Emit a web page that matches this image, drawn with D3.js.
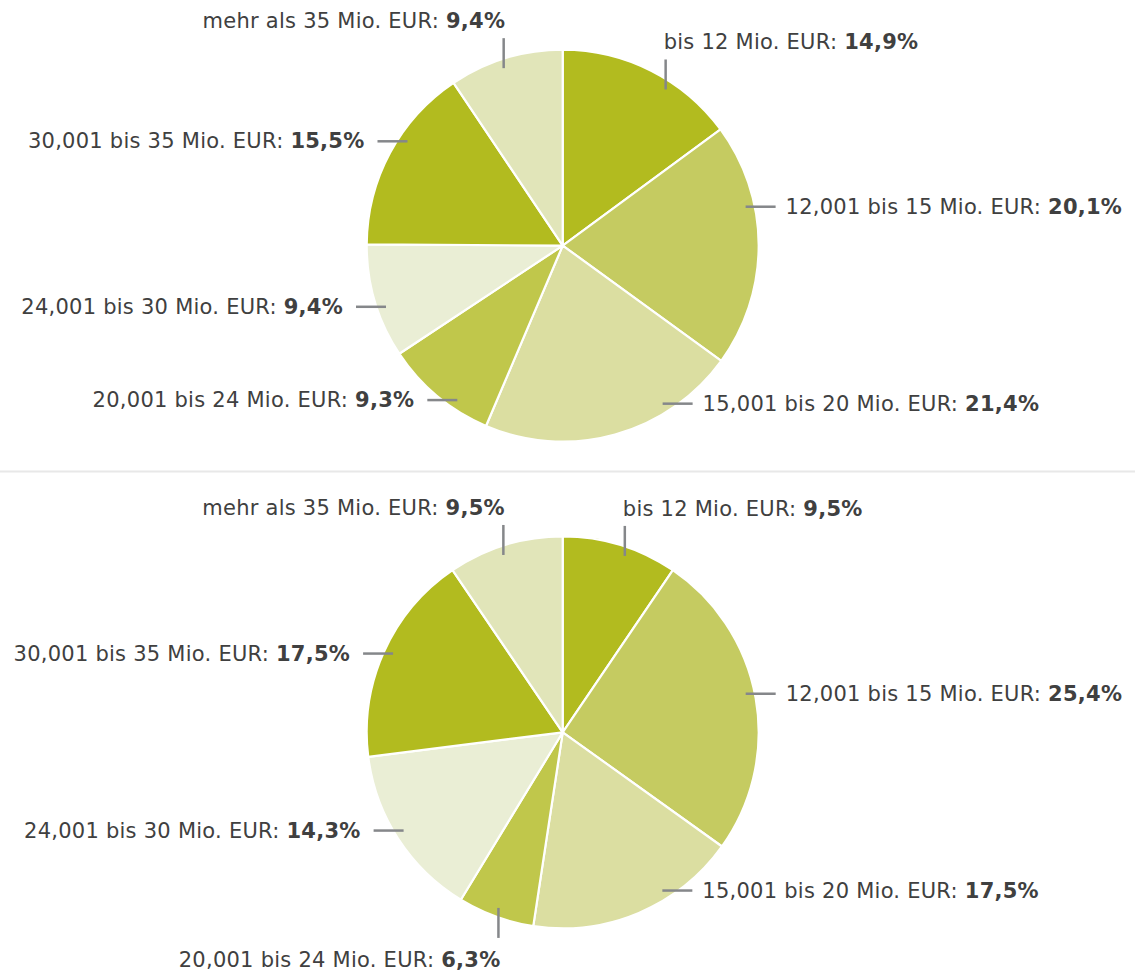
<!DOCTYPE html>
<html>
<head>
<meta charset="utf-8">
<script src="https://cdn.jsdelivr.net/npm/d3@7"></script>
<style>
  html, body { margin: 0; padding: 0; background: #ffffff; }
  svg { display: block; }
  text { font-family: "DejaVu Sans", "Liberation Sans", sans-serif; letter-spacing: 0.25px; }
</style>
</head>
<body>
<script>
// ---- data ----
const categories = [
  "bis 12 Mio. EUR",
  "12,001 bis 15 Mio. EUR",
  "15,001 bis 20 Mio. EUR",
  "20,001 bis 24 Mio. EUR",
  "24,001 bis 30 Mio. EUR",
  "30,001 bis 35 Mio. EUR",
  "mehr als 35 Mio. EUR"
];
const valuesTop = [14.9, 20.1, 21.4, 9.3, 9.4, 15.5, 9.4];
const valuesBottom = [9.5, 25.4, 17.5, 6.3, 14.3, 17.5, 9.5];

// ---- styles / layout (not data) ----
const sliceColors = ["#b2bb1f", "#c5cb61", "#dbdea1", "#c0c74b", "#eaeed5", "#b2bb1f", "#e1e5b9"];
const labelAnglesTop = [33.4, 78, 147.7, 214.3, 250.9, 303.9, 341.6];      // degrees, clockwise from 12 o'clock
const labelAnglesBottom = [19.4, 78.1, 147.8, 200.1, 238.3, 294.9, 341.5];

const W = 1135, H = 971;
const R = 196;
const cx = 562.7;
const pies = [
  { values: valuesTop, cy: 245.6, labelAngles: labelAnglesTop },
  { values: valuesBottom, cy: 732.3, labelAngles: labelAnglesBottom }
];

const locale = d3.formatLocale({ decimal: ",", thousands: ".", grouping: [3], currency: ["", " €"] });
const fmt = locale.format(".1f");

const svg = d3.select("body").append("svg").attr("width", W).attr("height", H);

// divider
svg.append("line")
  .attr("x1", 0).attr("x2", W).attr("y1", 471.5).attr("y2", 471.5)
  .attr("stroke", "#e8e8e8").attr("stroke-width", 2);

const pie = d3.pie().sort(null).value(d => d);
const arc = d3.arc().innerRadius(0).outerRadius(R);

const anchorR = 187, lineLen = 30;
const fontSize = 21;

pies.forEach(p => {
  const g = svg.append("g").attr("transform", `translate(${cx},${p.cy})`);
  const arcs = pie(p.values);
  g.selectAll("path.slice")
    .data(arcs)
    .join("path")
    .attr("class", "slice")
    .attr("d", arc)
    .attr("fill", (d, i) => sliceColors[i])
    .attr("stroke", "#ffffff")
    .attr("stroke-width", 2.2)
    .attr("stroke-linejoin", "round");

  arcs.forEach((d, i) => {
    const a = p.labelAngles[i] * Math.PI / 180;
    const x0 = anchorR * Math.sin(a);
    const y0 = -anchorR * Math.cos(a);
    const c = Math.cos(a);
    const right = Math.sin(a) >= 0;
    let x1, y1, tx, ty, anchor;
    if (c > 0.8) {           // vertical up
      x1 = x0; y1 = y0 - lineLen;
      tx = right ? x0 - 2 : x0 + 1.5; ty = y1 - 10; anchor = right ? "start" : "end";
    } else if (c < -0.9) {   // vertical down
      x1 = x0; y1 = y0 + lineLen;
      tx = right ? x0 - 2 : x0 + 2; ty = y1 + 29; anchor = right ? "start" : "end";
    } else {                 // horizontal
      x1 = right ? x0 + lineLen : x0 - lineLen; y1 = y0;
      tx = right ? x1 + 10 : x1 - 13; ty = y0 + 7; anchor = right ? "start" : "end";
    }
    g.append("line")
      .attr("x1", x0).attr("y1", y0).attr("x2", x1).attr("y2", y1)
      .attr("stroke", "#85878a").attr("stroke-width", 2.5);
    const t = g.append("text")
      .attr("x", tx).attr("y", ty)
      .attr("text-anchor", anchor)
      .attr("font-size", fontSize)
      .attr("fill", "#404040");
    t.append("tspan").text(categories[i] + ": ");
    t.append("tspan").attr("font-weight", "bold").text(fmt(d.data) + "%");
  });
});
</script>
</body>
</html>
